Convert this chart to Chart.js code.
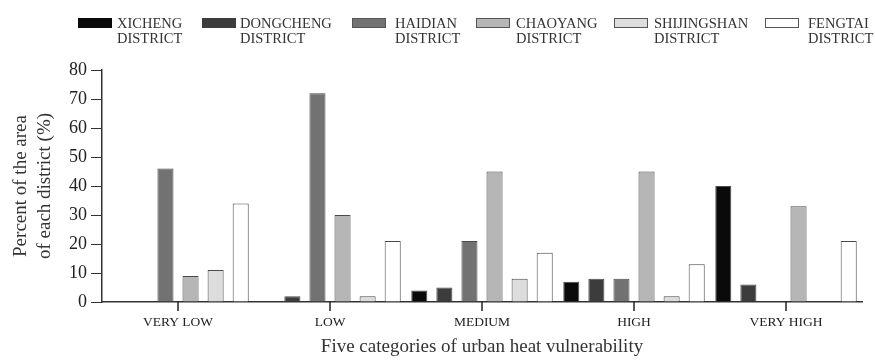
<!DOCTYPE html>
<html>
<head>
<meta charset="utf-8">
<script src="https://cdn.jsdelivr.net/npm/chart.js@4.4.1/dist/chart.umd.min.js"></script>
<style>
  html, body { margin: 0; padding: 0; background: #fff; }
  #wrap { position: relative; width: 875px; height: 360px; }
  #legend { position: absolute; left: 0; top: 0; width: 875px; height: 50px;
            font-family: "Liberation Serif", "DejaVu Serif", serif; font-size: 14.5px; color: #333; }
  .box { position: absolute; width: 34px; height: 10px; border: 1px solid #555; box-sizing: border-box; }
  .txt { position: absolute; line-height: 15px; white-space: nowrap; }
</style>
</head>
<body>
<div id="wrap">
  <canvas id="c" width="875" height="360"></canvas>
  <div id="legend"></div>
</div>
<script>
// Data
const categories = ['VERY LOW', 'LOW', 'MEDIUM', 'HIGH', 'VERY HIGH'];
const districts = ['XICHENG', 'DONGCHENG', 'HAIDIAN', 'CHAOYANG', 'SHIJINGSHAN', 'FENGTAI'];
const xicheng     = [0, 0, 4, 7, 40];
const dongcheng   = [0, 2, 5, 8, 6];
const haidian     = [46, 72, 21, 8, 0];
const chaoyang    = [9, 30, 45, 45, 33];
const shijingshan = [11, 2, 8, 2, 0];
const fengtai     = [34, 21, 17, 13, 21];
const yTicks = [0, 10, 20, 30, 40, 50, 60, 70, 80];

const series = [xicheng, dongcheng, haidian, chaoyang, shijingshan, fengtai];
const fills = ['#0a0a0a', '#3c3c3c', '#727272', '#b6b6b6', '#dddddd', '#ffffff'];
const legendLeft = [78, 202, 352, 476, 614, 765];
const textLeft = [117, 240, 395, 516, 654, 808];

const serif = '"Liberation Serif", "DejaVu Serif", serif';

// HTML legend
const legend = document.getElementById('legend');
districts.forEach((d, i) => {
  const box = document.createElement('div');
  box.className = 'box';
  box.style.left = legendLeft[i] + 'px';
  box.style.top = '18px';
  box.style.background = fills[i];
  if (i < 2) box.style.borderColor = fills[i];
  legend.appendChild(box);
  const t = document.createElement('div');
  t.className = 'txt';
  t.style.left = textLeft[i] + 'px';
  t.style.top = '16px';
  t.innerHTML = d + '<br>DISTRICT';
  legend.appendChild(t);
});

// short tick marks under each category centre
const centreTicks = {
  id: 'centreTicks',
  afterDraw(chart) {
    const x = chart.scales.x, ctx = chart.ctx;
    ctx.save();
    ctx.strokeStyle = '#222';
    ctx.lineWidth = 1.5;
    for (let i = 0; i < categories.length; i++) {
      const px = Math.round(x.getPixelForValue(i));
      ctx.beginPath();
      ctx.moveTo(px, x.top);
      ctx.lineTo(px, x.top + 9);
      ctx.stroke();
    }
    ctx.restore();
  }
};

new Chart(document.getElementById('c').getContext('2d'), {
  type: 'bar',
  data: {
    labels: categories,
    datasets: series.map((s, i) => ({
      label: districts[i] + ' DISTRICT',
      data: s,
      backgroundColor: fills[i],
      borderColor: '#4a4a4a',
      // no outline for empty bars
      borderWidth: ctx => (ctx.raw ? 1 : 0),
      categoryPercentage: 0.99,
      barPercentage: 0.64
    }))
  },
  options: {
    responsive: false,
    animation: false,
    layout: { padding: { left: 0, right: 13, top: 70, bottom: 0 } },
    plugins: { legend: { display: false }, tooltip: { enabled: false } },
    scales: {
      x: {
        grid: { display: false, tickLength: 9 },
        border: { display: true, color: '#333', width: 1.5 },
        ticks: { color: '#222', font: { family: serif, size: 13.5 }, padding: 3, maxRotation: 0 },
        title: { display: true, text: 'Five categories of urban heat vulnerability', color: '#333',
                 font: { family: serif, size: 19 }, padding: { top: 0, bottom: 2 } },
        afterFit: s => { s.height = 58; }
      },
      y: {
        min: 0, max: 80,
        afterBuildTicks: s => { s.ticks = yTicks.map(v => ({ value: v })); },
        grid: { display: true, drawOnChartArea: false, drawTicks: true, tickLength: 11, color: '#333' },
        border: { display: true, color: '#333', width: 1.5 },
        ticks: { color: '#222', font: { family: serif, size: 18 }, padding: 4 },
        title: { display: true, text: ['Percent of the area', 'of each district (%)'], color: '#333',
                 font: { family: serif, size: 19, lineHeight: 1.25 }, padding: { top: 9, bottom: 4 } },
        afterFit: s => { s.width = 102; }
      }
    }
  },
  plugins: [centreTicks]
});
</script>
</body>
</html>
